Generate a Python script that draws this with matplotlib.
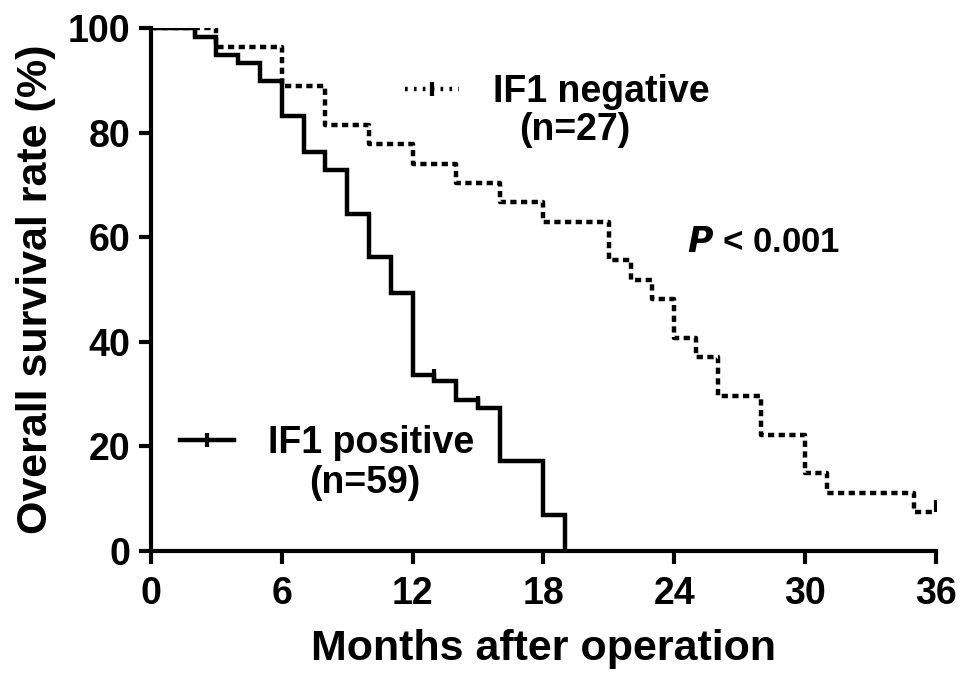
import numpy as np
import matplotlib
matplotlib.use("Agg")
import matplotlib.pyplot as plt
from matplotlib.lines import Line2D

plt.rcParams['font.family'] = ['Liberation Sans', 'DejaVu Sans']
plt.rcParams['font.weight'] = 'bold'

# Kaplan-Meier curves (months, % surviving)
pos_months = [0, 2, 3, 4, 5, 6, 7, 8, 9, 10, 11, 12, 13, 14, 15, 16, 18, 19]
pos_surv = [100, 98.3, 94.9, 93.4, 89.8, 83.1, 76.3, 72.9, 64.4, 56.3, 49.3,
            33.7, 32.4, 28.9, 27.3, 17.1, 6.9, 0]
pos_censor = [2, 13, 15]

neg_months = [0, 3, 6, 8, 10, 12, 14, 16, 18, 21, 22, 23, 24, 25, 26, 28, 30, 31, 35, 36]
neg_surv = [100, 96.3, 88.9, 81.5, 77.8, 74.1, 70.4, 66.7, 63.0, 55.6, 51.9,
            48.1, 40.7, 37.0, 29.6, 22.2, 14.8, 11.1, 7.4, 7.4]
neg_censor = [36]

x_ticks = [0, 6, 12, 18, 24, 30, 36]
y_ticks = [0, 20, 40, 60, 80, 100]

fig = plt.figure(figsize=(9.69, 6.86), dpi=100)
ax = fig.add_axes([0.1558, 0.197, 0.81, 0.762])

lw = 3.2
dash = (0, (1.4, 1.0))
ax.plot(pos_months, pos_surv, drawstyle='steps-post', color='black', lw=lw,
        solid_joinstyle='miter')
ax.plot(neg_months, neg_surv, drawstyle='steps-post', color='black', lw=lw,
        linestyle=dash)


def censor_y(months, surv, t):
    i = np.searchsorted(months, t, side='right') - 1
    return surv[i]


ax.plot(pos_censor, [censor_y(pos_months, pos_surv, t) + 1.2 for t in pos_censor],
        ls='none', marker='|', ms=9, mew=3, color='black')
ax.plot(neg_censor, [censor_y(neg_months, neg_surv, t) + 1.2 for t in neg_censor],
        ls='none', marker='|', ms=9, mew=3, color='black')

ax.set_xlim(0, 36)
ax.set_ylim(0, 100)
ax.set_xticks(x_ticks)
ax.set_yticks(y_ticks)
ax.tick_params(labelsize=27, width=3, length=9, direction='out')
ax.tick_params(axis='x', pad=9)
ax.tick_params(axis='y', pad=6)
for lab in ax.get_xticklabels() + ax.get_yticklabels():
    lab.set_fontweight('bold')
for s in ['top', 'right']:
    ax.spines[s].set_visible(False)
for s in ['left', 'bottom']:
    ax.spines[s].set_linewidth(3)

ax.set_xlabel('Months after operation', fontsize=31, fontweight='bold', labelpad=12)
ax.set_ylabel('Overall survival rate (%)', fontsize=31, fontweight='bold', labelpad=8)

# legend entries: handle next to first line, sample size centred below
h_pos = Line2D([], [], color='black', lw=lw, marker='|', ms=10, mew=3)
h_neg = Line2D([], [], color='black', lw=lw, ls=(0, (0.6, 1.4)), marker='|', ms=10, mew=3)

leg_neg = ax.legend([h_neg], ['IF1 negative'], loc='center left', frameon=False,
                    bbox_to_anchor=(0.3236, 0.878), fontsize=27, handlelength=1.45,
                    handletextpad=0.9, borderpad=0, borderaxespad=0, numpoints=1)
ax.add_artist(leg_neg)
leg_pos = ax.legend([h_pos], ['IF1 positive'], loc='center left', frameon=False,
                    bbox_to_anchor=(0.037, 0.2065), fontsize=27, handlelength=1.45,
                    handletextpad=0.9, borderpad=0, borderaxespad=0, numpoints=1)
for leg in (leg_neg, leg_pos):
    for t in leg.get_texts():
        t.set_fontweight('bold')

ax.text(0.540, 0.805, '(n=27)', transform=ax.transAxes, fontsize=27,
        fontweight='bold', ha='center', va='center')
ax.text(0.2726, 0.130, '(n=59)', transform=ax.transAxes, fontsize=27,
        fontweight='bold', ha='center', va='center')

ax.text(0.781, 0.589, r'$\mathbf{\mathit{P}}$ < 0.001', transform=ax.transAxes, fontsize=25,
        fontweight='bold', ha='center', va='center')

fig.savefig('out.png', dpi=100)
